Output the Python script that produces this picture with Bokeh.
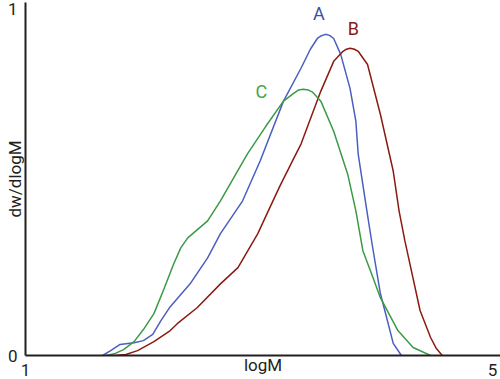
from bokeh.plotting import figure
from bokeh.models import FixedTicker, LabelSet, ColumnDataSource, Range1d
from bokeh.core.properties import value
from bokeh.embed import file_html
from bokeh.resources import INLINE

# Curve A (blue)
a_x = [1.66, 1.73, 1.81, 1.93, 2.01, 2.09, 2.16, 2.24, 2.41, 2.56, 2.67, 2.86, 3.01, 3.21, 3.36,
       3.44, 3.50, 3.535, 3.57, 3.604, 3.64, 3.70, 3.78, 3.83, 3.85, 3.92, 3.97, 4.04, 4.10, 4.15, 4.22]
a_y = [0.0, 0.014, 0.032, 0.037, 0.043, 0.061, 0.101, 0.141, 0.207, 0.282, 0.352, 0.447, 0.562, 0.735, 0.830,
       0.885, 0.916, 0.924, 0.928, 0.925, 0.916, 0.870, 0.772, 0.677, 0.582, 0.427, 0.320, 0.179, 0.101, 0.035, 0.0]

# Curve B (dark red)
b_x = [1.77, 1.86, 1.96, 2.10, 2.24, 2.30, 2.47, 2.67, 2.82, 2.99, 3.08, 3.18, 3.30, 3.36, 3.53,
       3.64, 3.72, 3.749, 3.78, 3.818, 3.85, 3.93, 4.04, 4.15, 4.20, 4.25, 4.30, 4.38, 4.47, 4.52, 4.57]
b_y = [0.0, 0.003, 0.014, 0.040, 0.072, 0.092, 0.138, 0.207, 0.254, 0.352, 0.418, 0.490, 0.571, 0.611, 0.764,
       0.850, 0.879, 0.885, 0.888, 0.885, 0.879, 0.841, 0.697, 0.533, 0.418, 0.331, 0.254, 0.130, 0.052, 0.020, 0.0]

# Curve C (green)
c_x = [1.69, 1.77, 1.84, 1.93, 2.01, 2.10, 2.18, 2.27, 2.33, 2.39, 2.46, 2.56, 2.67, 2.90, 3.06,
       3.21, 3.30, 3.338, 3.38, 3.424, 3.46, 3.53, 3.64, 3.76, 3.83, 3.89, 3.97, 4.04, 4.19, 4.32, 4.47]
c_y = [0.0, 0.006, 0.017, 0.040, 0.075, 0.121, 0.187, 0.265, 0.311, 0.340, 0.360, 0.389, 0.447, 0.582, 0.663,
       0.735, 0.758, 0.767, 0.769, 0.767, 0.761, 0.735, 0.648, 0.524, 0.418, 0.303, 0.231, 0.167, 0.072, 0.023, 0.0]

# Curve labels
lab_text = ["A", "B", "C"]
lab_x = [3.514, 3.809, 3.021]
lab_y = [0.987, 0.945, 0.763]
lab_color = ["#3a4fa8", "#8b1a14", "#45a845"]

x_ticks = [1, 5]
y_ticks = [0, 1]
x_title = "logM"
y_title = "dw/dlogM"

FONT = "Roboto"
TXT = "#231f20"

p = figure(width=500, height=379, output_backend="svg", toolbar_location=None,
           x_range=Range1d(1.0, 5.069), y_range=Range1d(0.0, 1.02),
           min_border_left=25, min_border_right=0, min_border_top=2, min_border_bottom=24)
p.outline_line_color = None
p.xgrid.visible = False
p.ygrid.visible = False
p.background_fill_color = "white"
p.border_fill_color = "white"

for ax in (p.xaxis[0], p.yaxis[0]):
    ax.axis_line_width = 2
    ax.axis_line_color = TXT
    ax.major_tick_line_color = None
    ax.minor_tick_line_color = None
    ax.major_tick_out = 0
    ax.major_tick_in = 0
    ax.major_label_text_font = FONT
    ax.major_label_text_font_size = "17px"
    ax.major_label_text_color = TXT
    ax.axis_label_text_font = FONT
    ax.axis_label_text_font_size = "17px"
    ax.axis_label_text_font_style = "normal"
    ax.axis_label_text_color = TXT

p.xaxis[0].ticker = FixedTicker(ticks=x_ticks)
p.yaxis[0].ticker = FixedTicker(ticks=y_ticks)
p.xaxis[0].major_label_standoff = 8
p.yaxis[0].major_label_standoff = 8
p.xaxis[0].axis_label = x_title
p.yaxis[0].axis_label = y_title
p.xaxis[0].axis_label_standoff = -24
p.yaxis[0].axis_label_standoff = -20

p.line(a_x, a_y, line_color="#4a5fc0", line_width=1.5, line_join="round")
p.line(b_x, b_y, line_color="#8b1a10", line_width=1.5, line_join="round")
p.line(c_x, c_y, line_color="#3a9a45", line_width=1.5, line_join="round")

src = ColumnDataSource(dict(x=lab_x, y=lab_y, text=lab_text, color=lab_color))
p.add_layout(LabelSet(x="x", y="y", text="text", source=src, text_color="color",
                      text_font=value(FONT), text_font_size=value("18px"),
                      text_align="center", text_baseline="middle"))

open("out.html", "w").write(file_html(p, INLINE))
